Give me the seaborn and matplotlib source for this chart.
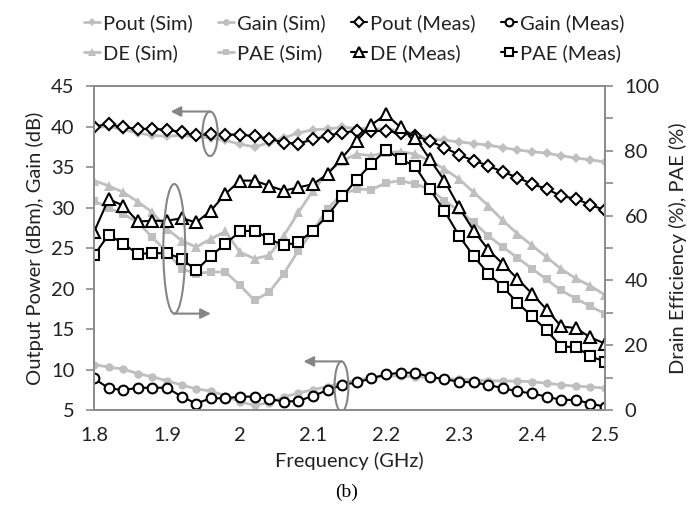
import numpy as np
import matplotlib
matplotlib.use("Agg")
import matplotlib.pyplot as plt
import seaborn as sns
from matplotlib.patches import Ellipse

# Datos (frecuencia cada 20 MHz)
freq = np.round(np.arange(1.80, 2.5001, 0.02), 2)

pout_sim = [39.9, 40.0, 39.6, 39.2, 38.9, 38.8, 38.9, 38.7, 38.6, 38.3,
            37.8, 37.5, 38.0, 38.6, 39.2, 39.6, 39.7, 39.9, 39.8, 39.7,
            39.7, 39.5, 39.1, 38.5, 38.3, 38.1, 37.9, 37.7, 37.4, 37.1,
            36.9, 36.7, 36.4, 36.1, 35.9, 35.6]
gain_sim = [10.6, 10.3, 10.05, 9.5, 9.1, 8.6, 8.1, 7.6, 7.35, 6.75,
            6.0, 5.6, 5.9, 6.6, 7.1, 7.5, 7.9, 8.3, 8.7, 9.0,
            9.2, 9.2, 9.1, 9.0, 8.9, 8.8, 8.7, 8.6, 8.6, 8.55,
            8.5, 8.3, 8.1, 7.95, 7.85, 7.7]
pout_meas = [40.0, 40.3, 39.9, 39.7, 39.7, 39.6, 39.3, 38.9, 39.05, 39.0,
             39.0, 38.8, 38.5, 38.0, 37.9, 38.4, 38.85, 39.25, 39.45, 39.45,
             39.45, 39.2, 38.85, 38.2, 37.4, 36.5, 35.8, 35.15, 34.4, 33.7,
             32.9, 32.3, 31.4, 31.1, 30.3, 29.7]
gain_meas = [8.9, 7.7, 7.45, 7.75, 7.75, 7.75, 6.65, 5.8, 6.45, 6.45,
             6.65, 6.65, 6.35, 6.05, 6.1, 6.75, 7.45, 8.1, 8.4, 8.9,
             9.4, 9.6, 9.6, 9.1, 8.8, 8.5, 8.4, 8.1, 7.7, 7.3,
             7.05, 6.65, 6.25, 6.25, 5.8, 5.4]
de_sim = [70.8, 69.2, 67.2, 64.3, 61.0, 55.9, 52.3, 50.3, 52.8, 55.1,
          48.7, 46.7, 47.7, 53.8, 61.0, 67.7, 73.3, 76.9, 79.0, 78.5,
          79.5, 79.7, 79.0, 76.9, 74.4, 71.3, 67.2, 63.1, 58.5, 54.4,
          50.8, 47.2, 43.5, 40.6, 38.3, 35.5]
pae_sim = [64.6, 62.3, 60.5, 57.9, 53.3, 48.7, 43.6, 42.1, 42.6, 42.6,
           38.5, 33.8, 36.4, 42.1, 49.2, 55.4, 62.1, 66.7, 68.2, 68.0,
           70.1, 70.8, 69.7, 68.2, 64.6, 61.5, 57.9, 53.8, 50.3, 47.0,
           43.6, 40.3, 36.9, 34.4, 32.0, 29.7]
de_meas = [54.9, 65.1, 63.1, 58.2, 58.4, 58.4, 59.2, 57.9, 61.5, 66.7,
           70.8, 70.8, 69.2, 67.7, 68.7, 69.7, 72.8, 77.9, 83.1, 88.0,
           91.3, 87.2, 84.1, 77.4, 70.8, 62.6, 55.4, 49.5, 45.1, 40.5,
           35.9, 31.0, 25.8, 25.3, 22.4, 20.5]
pae_meas = [47.7, 54.1, 51.3, 48.2, 48.4, 48.4, 46.7, 43.1, 47.5, 51.3,
            55.1, 55.4, 52.8, 50.8, 51.8, 55.4, 60.0, 65.9, 71.1, 76.0,
            80.3, 77.4, 75.2, 68.2, 61.5, 53.8, 47.5, 42.1, 38.0, 33.1,
            28.9, 24.6, 19.5, 19.5, 16.6, 14.9]

sns.set_style("white")
plt.rcParams['font.family'] = ['Lato', 'DejaVu Sans']

GRIS = '#bfbfbf'
EJE = '#8c8c8c'
TXT = '#222222'
FS = 14.5

fig = plt.figure(figsize=(6.94, 5.08), dpi=100)
ax = fig.add_axes([0.1354, 0.1929, 0.7364, 0.6378])
ax2 = ax.twinx()

sim_kw = dict(color=GRIS, linewidth=2, markeredgewidth=0)
meas_kw = dict(color='black', linewidth=1.5, markerfacecolor='white',
               markeredgecolor='black', markeredgewidth=1.5)

# Series eje izquierdo
sns.lineplot(x=freq, y=pout_sim, ax=ax, marker='D', markersize=5.5,
             label='Pout (Sim)', legend=False, **sim_kw)
sns.lineplot(x=freq, y=gain_sim, ax=ax, marker='o', markersize=6,
             label='Gain (Sim)', legend=False, **sim_kw)
sns.lineplot(x=freq, y=pout_meas, ax=ax, marker='D', markersize=6.5,
             label='Pout (Meas)', legend=False, **meas_kw)
sns.lineplot(x=freq, y=gain_meas, ax=ax, marker='o', markersize=7,
             label='Gain (Meas)', legend=False, **meas_kw)

# Series eje derecho
sns.lineplot(x=freq, y=de_sim, ax=ax2, marker='^', markersize=7,
             label='DE (Sim)', legend=False, **sim_kw)
sns.lineplot(x=freq, y=pae_sim, ax=ax2, marker='s', markersize=5.5,
             label='PAE (Sim)', legend=False, **sim_kw)
sns.lineplot(x=freq, y=de_meas, ax=ax2, marker='^', markersize=8.5,
             label='DE (Meas)', legend=False, **meas_kw)
sns.lineplot(x=freq, y=pae_meas, ax=ax2, marker='s', markersize=7.5,
             label='PAE (Meas)', legend=False, **meas_kw)

ax.set_xlim(1.8, 2.5)
ax.set_ylim(5, 45)
ax2.set_ylim(0, 100)
ax.set_xticks(np.arange(1.8, 2.501, 0.1))
ax.set_xticklabels(['1.8', '1.9', '2', '2.1', '2.2', '2.3', '2.4', '2.5'])
ax.set_yticks(np.arange(5, 46, 5))
ax2.set_yticks(np.arange(0, 101, 20))
ax2.set_yticks(np.arange(0, 101, 10), minor=True)

for a in (ax, ax2):
    for s in a.spines.values():
        s.set_color(EJE)
        s.set_linewidth(1.3)
    a.tick_params(which='both', direction='out', color=EJE, width=1.2,
                  length=6, labelsize=FS, labelcolor=TXT)
ax.tick_params(axis='y', pad=8)
ax2.tick_params(axis='y', pad=8)
ax.tick_params(axis='x', pad=6)

ax.set_xlabel('Frequency (GHz)', fontsize=FS, color=TXT, labelpad=6)
ax.set_ylabel('Output Power (dBm), Gain (dB)', fontsize=FS, color=TXT, labelpad=5)
ax2.set_ylabel('Drain Efficiency (%), PAE (%)', fontsize=FS, color=TXT, labelpad=7)
fig.text(0.5, 0.031, '(b)', ha='center', va='center', fontsize=14,
         family='Liberation Serif', color='black')

# Elipses y flechas
FL = '#858585'
elipses = [(1.959, 39.1, 0.021, 5.5), (1.910, 24.9, 0.030, 16.0),
           (2.139, 7.9, 0.019, 6.2)]
for cx, cy, w, h in elipses:
    ax2.add_patch(Ellipse((cx, cy), w, h, transform=ax.transData,
                          fill=False, edgecolor=FL, linewidth=1.5, zorder=5))
flechas = [((1.959, 41.85), (1.905, 41.85)),
           ((1.910, 16.9), (1.960, 16.9)),
           ((2.139, 11.0), (2.087, 11.0))]
for ini, fin in flechas:
    ax2.annotate('', xy=fin, xytext=ini, xycoords=ax.transData,
                 textcoords=ax.transData,
                 arrowprops=dict(arrowstyle='-|>', color=FL, lw=1.5,
                                 mutation_scale=15, shrinkA=0, shrinkB=0))

# Leyenda en 2 filas x 4 columnas
h1, l1 = ax.get_legend_handles_labels()
h2, l2 = ax2.get_legend_handles_labels()
orden = [h1[0], h2[0], h1[1], h2[1], h1[2], h2[2], h1[3], h2[3]]
etiq = [l1[0], l2[0], l1[1], l2[1], l1[2], l2[2], l1[3], l2[3]]
fig.legend(orden, etiq, loc='upper center', bbox_to_anchor=(0.51, 1.008),
           ncol=4, frameon=False, fontsize=FS, handlelength=0.8,
           handletextpad=0.15, columnspacing=1.25, labelspacing=0.6,
           labelcolor=TXT, markerscale=0.8)

fig.savefig('out.png', dpi=100)
